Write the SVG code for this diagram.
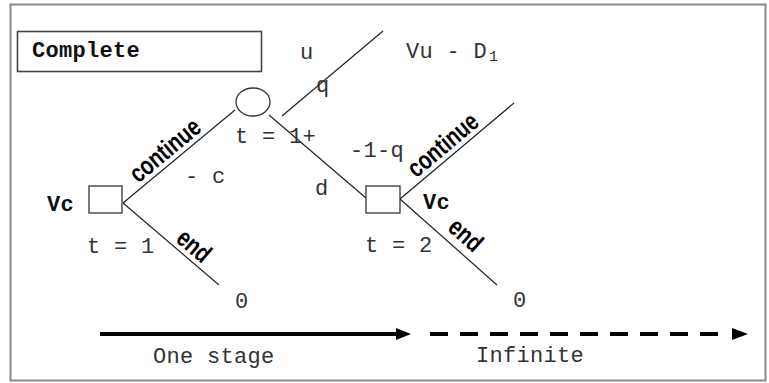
<svg xmlns="http://www.w3.org/2000/svg" width="769" height="383" viewBox="0 0 769 383">
<style>
.mono{font-family:"Liberation Mono","DejaVu Sans Mono",monospace;font-size:22px;letter-spacing:0.3px;fill:#333}
.bold{font-weight:bold;fill:#111}
.lbl{font-family:"Liberation Sans",Arial,sans-serif;font-size:26px;font-weight:bold;fill:#000;text-anchor:middle}
.edge{stroke:#222;stroke-width:1.2;fill:none}
.node{fill:#fff;stroke:#333;stroke-width:1.3}
</style>
<rect x="0" y="0" width="769" height="383" fill="#fff"/>
<rect id="frame" x="10.5" y="4.5" width="755" height="376" fill="none" stroke="#888" stroke-width="2"/>
<g id="title">
<rect x="17.5" y="31.5" width="244" height="40" fill="#fff" stroke="#444" stroke-width="1.6"/>
<text class="mono bold" x="32" y="57">Complete</text>
</g>
<g id="connectors">
<line class="edge" x1="123" y1="203" x2="235" y2="110"/>
<line class="edge" x1="123" y1="203" x2="219" y2="285"/>
<line class="edge" x1="269" y1="115" x2="366" y2="198"/>
<line class="edge" x1="282" y1="116" x2="383" y2="31"/>
<line class="edge" x1="400" y1="199" x2="514" y2="103"/>
<line class="edge" x1="400" y1="199" x2="497" y2="285"/>
<text class="lbl" transform="translate(170.5,157) rotate(-39.7)" textLength="84" lengthAdjust="spacingAndGlyphs">continue</text>
<text class="lbl" transform="translate(188.5,252.4) rotate(40.5)" textLength="36" lengthAdjust="spacingAndGlyphs">end</text>
<text class="lbl" transform="translate(448.5,151.5) rotate(-40.1)" textLength="84" lengthAdjust="spacingAndGlyphs">continue</text>
<text class="lbl" transform="translate(460,241.5) rotate(41.6)" textLength="36" lengthAdjust="spacingAndGlyphs">end</text>
</g>
<g id="decision1">
<rect class="node" x="89" y="186" width="33" height="27"/>
<text class="mono bold" x="47" y="211">Vc</text>
<text class="mono" x="87" y="253">t = 1</text>
<text class="mono" x="185" y="183">- c</text>
</g>
<g id="chance">
<ellipse class="node" cx="253" cy="102" rx="17" ry="14"/>
<text class="mono" x="235" y="143">t = 1+</text>
<text class="mono" x="300" y="59">u</text>
<text class="mono" x="316" y="92">q</text>
<text class="mono" x="350" y="157">-1-q</text>
<text class="mono" x="315" y="195">d</text>
</g>
<g id="outcome-up">
<text class="mono" x="406" y="58">Vu - D<tspan x="489" y="61" style="font-size:15px;letter-spacing:0">1</tspan></text>
</g>
<g id="decision2">
<rect class="node" x="366" y="186" width="34" height="27"/>
<text class="mono bold" x="423" y="209">Vc</text>
<text class="mono" x="365" y="252">t  = 2</text>
</g>
<g id="end1"><text class="mono" x="235" y="308">0</text></g>
<g id="end2"><text class="mono" x="513" y="307">0</text></g>
<g id="timeline">
<line x1="100" y1="334" x2="398" y2="334" stroke="#000" stroke-width="4"/>
<polygon points="396,328 411,334 396,340" fill="#000"/>
<line x1="430" y1="334" x2="720" y2="334" stroke="#000" stroke-width="4" stroke-dasharray="18 12"/>
<polygon points="732,328 748,334 732,340" fill="#000"/>
<text class="mono" x="153" y="363">One stage</text>
<text class="mono" x="476" y="362">Infinite</text>
</g>
</svg>
